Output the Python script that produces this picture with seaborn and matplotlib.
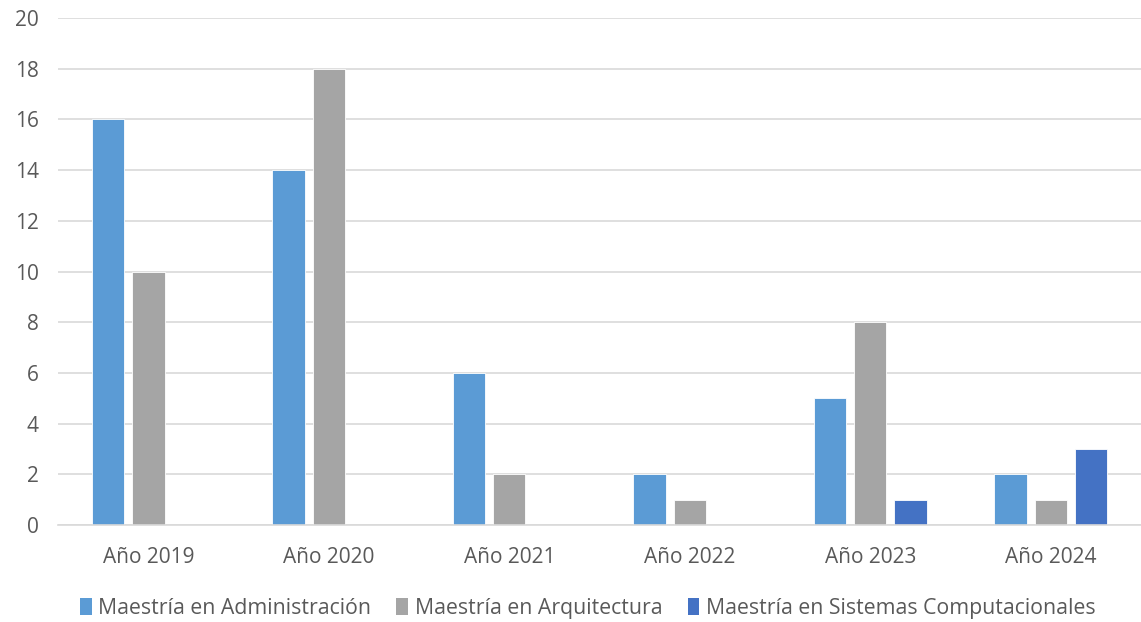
import matplotlib
matplotlib.use("Agg")
import matplotlib.pyplot as plt
import seaborn as sns
import pandas as pd
from matplotlib.patches import Patch

years = ["Año 2019", "Año 2020", "Año 2021", "Año 2022", "Año 2023", "Año 2024"]
series = ["Maestría en Administración", "Maestría en Arquitectura", "Maestría en Sistemas Computacionales"]
admin = [16, 14, 6, 2, 5, 2]
arq = [10, 18, 2, 1, 8, 1]
sistemas = [0, 0, 0, 0, 1, 3]
colors = ["#5B9BD5", "#A5A5A5", "#4472C4"]

rows = []
for vals, name in zip([admin, arq, sistemas], series):
    for y, v in zip(years, vals):
        rows.append({"year": y, "serie": name, "value": v})
df = pd.DataFrame(rows)

sns.set_theme(style="white")
plt.rcParams["font.family"] = ["Open Sans", "DejaVu Sans"]
txt = "#595959"

fig = plt.figure(figsize=(11.41, 6.22), dpi=100)
ax = fig.add_axes([0.051, 0.156, 0.949, 0.815])
sns.barplot(data=df, x="year", y="value", hue="serie", hue_order=series,
            palette=colors, width=0.67, gap=0.2, ax=ax, legend=False,
            saturation=1, edgecolor="white", linewidth=0.6)

ax.set_ylim(0, 20)
ax.set_xlim(-0.5, 5.5)
ax.set_yticks(range(0, 21, 2))
ax.yaxis.grid(True, color="#D9D9D9", linewidth=1.2)
ax.set_axisbelow(True)
for s in ["top", "right", "left"]:
    ax.spines[s].set_visible(False)
ax.spines["bottom"].set_color("#D9D9D9")
ax.spines["bottom"].set_linewidth(1.2)
ax.tick_params(axis="both", length=0, labelsize=15, colors=txt)
ax.tick_params(axis="x", pad=16)
ax.tick_params(axis="y", pad=14)
ax.set_xlabel("")
ax.set_ylabel("")

handles = [Patch(facecolor=c, edgecolor="none") for c in colors]
fig.legend(handles, series, loc="center", bbox_to_anchor=(0.515, 0.022), ncol=3,
           frameon=False, fontsize=15.3, labelcolor=txt, handlelength=0.55,
           handleheight=0.8, handletextpad=0.3, columnspacing=1.2)

fig.savefig("out.png", dpi=100)
